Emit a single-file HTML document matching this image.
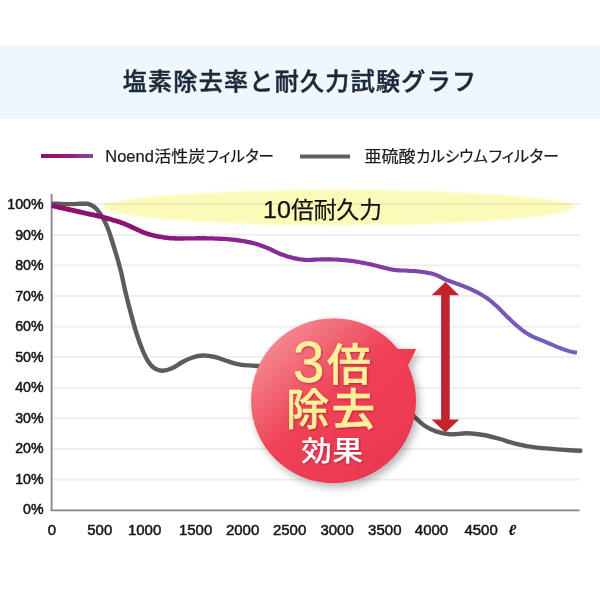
<!DOCTYPE html>
<html lang="ja">
<head>
<meta charset="utf-8">
<title>塩素除去率と耐久力試験グラフ</title>
<style>
html,body{margin:0;padding:0;background:#fff;}
body{width:600px;height:600px;overflow:hidden;position:relative;}
svg{position:absolute;left:0;top:0;display:block;}
text{font-family:"Liberation Sans","Noto Sans CJK JP",sans-serif;}
.jp{font-family:"Noto Sans CJK JP","Liberation Sans",sans-serif;}
</style>
</head>
<body>
<svg width="600" height="600" viewBox="0 0 600 600">
  <defs>
    <linearGradient id="gPurple" gradientUnits="userSpaceOnUse" x1="52" y1="0" x2="578" y2="0">
      <stop offset="0" stop-color="#8e1069"/>
      <stop offset="0.15" stop-color="#8d1272"/>
      <stop offset="0.3" stop-color="#8b2088"/>
      <stop offset="0.45" stop-color="#862e98"/>
      <stop offset="0.68" stop-color="#8044a6"/>
      <stop offset="0.85" stop-color="#7858b8"/>
      <stop offset="1" stop-color="#6f63c2"/>
    </linearGradient>
    <linearGradient id="gLegend" gradientUnits="userSpaceOnUse" x1="41" y1="0" x2="93" y2="0">
      <stop offset="0" stop-color="#85145e"/>
      <stop offset="0.55" stop-color="#9a1c80"/>
      <stop offset="0.8" stop-color="#8a3a95"/>
      <stop offset="1" stop-color="#75509f"/>
    </linearGradient>
    <linearGradient id="gBadge" gradientUnits="userSpaceOnUse" x1="275" y1="335" x2="400" y2="470">
      <stop offset="0" stop-color="#f48a92"/>
      <stop offset="0.45" stop-color="#ef4257"/>
      <stop offset="1" stop-color="#ea3650"/>
    </linearGradient>
    <filter id="fShadow" x="-20%" y="-20%" width="150%" height="150%">
      <feGaussianBlur in="SourceAlpha" stdDeviation="4"/>
      <feOffset dx="3" dy="4" result="b"/>
      <feComponentTransfer><feFuncA type="linear" slope="0.3"/></feComponentTransfer>
      <feMerge><feMergeNode/><feMergeNode in="SourceGraphic"/></feMerge>
    </filter>
    <filter id="fBlur" x="-10%" y="-50%" width="120%" height="200%">
      <feGaussianBlur stdDeviation="0.8"/>
    </filter>
    <filter id="tShadow" x="-10%" y="-10%" width="120%" height="120%">
      <feDropShadow dx="0.8" dy="1" stdDeviation="0.8" flood-color="#82001a" flood-opacity="0.5"/>
    </filter>
  </defs>

  <!-- title band -->
  <rect x="0" y="45.200" width="600" height="73.300" fill="#eff7fd"/>
  <text class="jp" x="300" y="90.400" text-anchor="middle" font-size="24" font-weight="500" fill="#1b2a3a" stroke="#1b2a3a" stroke-width="0.5" letter-spacing="1.33">塩素除去率と耐久力試験グラフ</text>

  <!-- legend -->
  <rect x="41" y="154" width="52" height="4" fill="url(#gLegend)"/>
  <g font-size="15.800" fill="#1a1a1a" stroke="#1a1a1a" stroke-width="0.2">
    <text x="105.300" y="162.400" font-family="'Liberation Sans',sans-serif" font-size="16" textLength="48.500" lengthAdjust="spacingAndGlyphs">Noend</text>
    <text class="jp" x="154.300" y="162.400" textLength="51" lengthAdjust="spacingAndGlyphs">活性炭</text>
    <text class="jp" x="206" y="162.400" style="font-feature-settings:'palt'" textLength="68" lengthAdjust="spacingAndGlyphs">フィルター</text>
  </g>
  <rect x="300" y="154.500" width="50" height="4" fill="#606060"/>
  <g font-size="15.800" fill="#1a1a1a" stroke="#1a1a1a" stroke-width="0.2">
    <text class="jp" x="364.600" y="162.400" textLength="51" lengthAdjust="spacingAndGlyphs">亜硫酸</text>
    <text class="jp" x="416.200" y="162.400" style="font-feature-settings:'palt'" textLength="71.500" lengthAdjust="spacingAndGlyphs">カルシウム</text>
    <text class="jp" x="488.600" y="162.400" style="font-feature-settings:'palt'" textLength="70.500" lengthAdjust="spacingAndGlyphs">フィルター</text>
  </g>

  <!-- grid -->
  <g stroke="#eeeeee" stroke-width="1.8" fill="none">
    <line x1="52" y1="204.2" x2="580" y2="204.2"/>
    <line x1="52" y1="234.8" x2="580" y2="234.8"/>
    <line x1="52" y1="265.4" x2="580" y2="265.4"/>
    <line x1="52" y1="296.0" x2="580" y2="296.0"/>
    <line x1="52" y1="326.6" x2="580" y2="326.6"/>
    <line x1="52" y1="357.2" x2="580" y2="357.2"/>
    <line x1="52" y1="387.8" x2="580" y2="387.8"/>
    <line x1="52" y1="418.4" x2="580" y2="418.4"/>
    <line x1="52" y1="449.0" x2="580" y2="449.0"/>
    <line x1="52" y1="479.6" x2="580" y2="479.6"/>
  </g>

  <!-- yellow lens -->
  <path d="M101.0 206.8 C103.0 206.0,108.9 203.3,112.9 202.2 C116.8 201.1,120.7 200.7,124.7 200.2 C128.6 199.6,132.6 199.1,136.6 198.6 C140.5 198.1,144.4 197.7,148.4 197.3 C152.3 197.0,156.3 196.6,160.2 196.3 C164.2 195.9,168.2 195.6,172.1 195.3 C176.1 195.0,180.0 194.7,183.9 194.5 C187.9 194.2,191.9 193.9,195.8 193.7 C199.8 193.5,203.7 193.2,207.6 193.0 C211.6 192.8,215.5 192.6,219.5 192.4 C223.5 192.2,227.4 192.1,231.4 191.9 C235.3 191.7,239.2 191.6,243.2 191.5 C247.1 191.3,251.1 191.2,255.1 191.1 C259.0 190.9,262.9 190.8,266.9 190.7 C270.8 190.6,274.8 190.5,278.8 190.4 C282.7 190.3,286.7 190.3,290.6 190.2 C294.6 190.1,298.5 190.1,302.4 190.0 C306.4 190.0,310.4 189.9,314.3 189.9 C318.2 189.9,322.2 189.8,326.1 189.8 C330.1 189.8,334.1 189.8,338.0 189.8 C341.9 189.8,345.9 189.8,349.9 189.8 C353.8 189.8,357.8 189.9,361.7 189.9 C365.7 189.9,369.6 190.0,373.5 190.0 C377.5 190.1,381.4 190.1,385.4 190.2 C389.3 190.3,393.3 190.3,397.2 190.4 C401.2 190.5,405.2 190.6,409.1 190.7 C413.1 190.8,417.0 190.9,421.0 191.1 C424.9 191.2,428.8 191.3,432.8 191.5 C436.7 191.6,440.7 191.7,444.6 191.9 C448.6 192.1,452.6 192.2,456.5 192.4 C460.4 192.6,464.4 192.8,468.4 193.0 C472.3 193.2,476.3 193.5,480.2 193.7 C484.2 193.9,488.1 194.2,492.0 194.5 C496.0 194.7,499.9 195.0,503.9 195.3 C507.8 195.6,511.8 195.9,515.8 196.3 C519.7 196.6,523.6 197.0,527.6 197.3 C531.6 197.7,535.5 198.1,539.5 198.6 C543.4 199.1,547.3 199.6,551.3 200.2 C555.2 200.7,559.2 201.1,563.1 202.2 C567.1 203.3,575.0 205.2,575.0 206.8 C575.0 208.4,567.1 210.6,563.1 211.8 C559.2 213.1,555.2 213.5,551.3 214.2 C547.3 214.9,543.4 215.4,539.5 216.0 C535.5 216.5,531.6 217.0,527.6 217.4 C523.6 217.9,519.7 218.3,515.8 218.7 C511.8 219.0,507.8 219.4,503.9 219.7 C499.9 220.0,496.0 220.3,492.0 220.6 C488.1 220.9,484.2 221.2,480.2 221.4 C476.3 221.7,472.3 221.9,468.4 222.1 C464.4 222.3,460.4 222.5,456.5 222.7 C452.6 222.9,448.6 223.1,444.6 223.3 C440.7 223.4,436.7 223.6,432.8 223.7 C428.8 223.9,424.9 224.0,421.0 224.1 C417.0 224.3,413.1 224.4,409.1 224.5 C405.2 224.6,401.2 224.7,397.2 224.8 C393.3 224.9,389.3 224.9,385.4 225.0 C381.4 225.1,377.5 225.1,373.5 225.2 C369.6 225.2,365.7 225.3,361.7 225.3 C357.8 225.3,353.8 225.4,349.9 225.4 C345.9 225.4,341.9 225.4,338.0 225.4 C334.1 225.4,330.1 225.4,326.1 225.4 C322.2 225.4,318.2 225.3,314.3 225.3 C310.4 225.3,306.4 225.2,302.4 225.2 C298.5 225.1,294.6 225.1,290.6 225.0 C286.7 224.9,282.7 224.9,278.8 224.8 C274.8 224.7,270.8 224.6,266.9 224.5 C262.9 224.4,259.0 224.3,255.1 224.1 C251.1 224.0,247.1 223.9,243.2 223.7 C239.2 223.6,235.3 223.4,231.4 223.3 C227.4 223.1,223.5 222.9,219.5 222.7 C215.5 222.5,211.6 222.3,207.6 222.1 C203.7 221.9,199.8 221.7,195.8 221.4 C191.9 221.2,187.9 220.9,183.9 220.6 C180.0 220.3,176.1 220.0,172.1 219.7 C168.2 219.4,164.2 219.0,160.2 218.7 C156.3 218.3,152.3 217.9,148.4 217.4 C144.4 217.0,140.5 216.5,136.6 216.0 C132.6 215.4,128.6 214.9,124.7 214.2 C120.7 213.5,116.8 213.1,112.9 211.8 C108.9 210.6,103.0 207.6,101.0 206.8 Z" fill="#fcfab8" filter="url(#fBlur)"/>
  <line x1="104" y1="204.200" x2="572" y2="204.200" stroke="#e4e1b2" stroke-width="1.3"/>

  <!-- axes -->
  <line x1="51.600" y1="194" x2="51.600" y2="511" stroke="#858585" stroke-width="1.8"/>
  <line x1="50.800" y1="510.300" x2="579.600" y2="510.300" stroke="#858585" stroke-width="1.8"/>

  <!-- y labels -->
  <g font-size="14.200" fill="#151515" stroke="#151515" stroke-width="0.5" text-anchor="end">
    <text x="43.600" y="209.1">100%</text>
    <text x="43.600" y="239.6">90%</text>
    <text x="43.600" y="270.1">80%</text>
    <text x="43.600" y="300.7">70%</text>
    <text x="43.600" y="331.2">60%</text>
    <text x="43.600" y="361.7">50%</text>
    <text x="43.600" y="392.2">40%</text>
    <text x="43.600" y="422.7">30%</text>
    <text x="43.600" y="453.3">20%</text>
    <text x="43.600" y="483.8">10%</text>
    <text x="43.600" y="514.3">0%</text>
  </g>
  <!-- x labels -->
  <g font-size="15" fill="#151515" stroke="#151515" stroke-width="0.5" text-anchor="middle">
    <text x="52.0" y="535.300">0</text>
    <text x="99.8" y="535.300">500</text>
    <text x="144.6" y="535.300">1000</text>
    <text x="195.6" y="535.300">1500</text>
    <text x="242.6" y="535.300">2000</text>
    <text x="289.6" y="535.300">2500</text>
    <text x="337.1" y="535.300">3000</text>
    <text x="384.8" y="535.300">3500</text>
    <text x="431.5" y="535.300">4000</text>
    <text x="481.1" y="535.300">4500</text>
    <text x="512.300" y="535.300" font-style="italic" font-weight="bold" font-family="'Liberation Serif','DejaVu Serif',serif" stroke="none">ℓ</text>
  </g>

  <!-- gray curve -->
  <path id="gray" fill="none" stroke="#5c5c5c" stroke-width="4.4" stroke-linecap="butt" stroke-linejoin="round"
    d="M51.7 203.6 C53.1 203.7,57.0 203.8,60.0 203.9 C63.0 204.0,66.7 204.1,70.0 204.1 C73.3 204.1,77.2 203.9,80.0 203.8 C82.8 203.8,85.0 203.5,87.0 203.8 C89.0 204.1,90.5 204.7,92.0 205.5 C93.5 206.3,94.7 207.2,96.0 208.5 C97.3 209.8,98.7 211.6,100.0 213.5 C101.3 215.4,102.8 217.7,104.0 220.0 C105.2 222.3,106.3 224.6,107.5 227.5 C108.7 230.4,109.8 233.7,111.0 237.5 C112.2 241.3,113.8 246.7,115.0 250.5 C116.2 254.3,117.0 256.8,118.0 260.5 C119.0 264.2,120.0 267.6,121.2 272.5 C122.4 277.4,123.5 283.8,125.0 290.0 C126.5 296.2,128.1 302.9,130.0 310.0 C131.9 317.1,134.1 325.8,136.2 332.5 C138.3 339.2,140.4 345.0,142.5 350.0 C144.6 355.0,146.6 359.2,148.7 362.3 C150.8 365.4,152.7 367.3,155.0 368.7 C157.3 370.1,159.6 370.9,162.5 370.8 C165.4 370.7,169.2 369.5,172.5 368.0 C175.8 366.5,179.2 363.8,182.5 362.0 C185.8 360.2,189.2 358.6,192.5 357.5 C195.8 356.4,198.8 355.6,202.5 355.5 C206.2 355.4,210.8 356.1,215.0 357.0 C219.2 357.9,223.3 359.9,227.5 361.2 C231.7 362.5,235.4 363.8,240.0 364.6 C244.6 365.4,249.2 365.3,255.0 365.8 C260.8 366.3,267.5 366.7,275.0 367.5 C282.5 368.3,290.8 369.2,300.0 370.5 C309.2 371.8,320.0 373.1,330.0 375.0 C340.0 376.9,350.8 379.3,360.0 382.0 C369.2 384.7,378.3 387.8,385.0 391.0 C391.7 394.2,395.0 396.6,400.0 401.0 C405.0 405.4,410.8 413.1,415.0 417.3 C419.2 421.5,421.4 423.6,425.0 426.0 C428.6 428.4,432.5 430.3,436.7 431.7 C440.9 433.1,445.0 434.0,450.0 434.3 C455.0 434.6,461.1 433.2,466.7 433.3 C472.2 433.4,477.8 434.1,483.3 435.0 C488.9 435.9,495.0 437.6,500.0 439.0 C505.0 440.4,508.8 441.9,513.3 443.1 C517.8 444.3,522.8 445.4,526.7 446.2 C530.7 446.9,533.7 447.2,537.0 447.6 C540.3 448.0,541.8 448.0,546.7 448.4 C551.7 448.8,560.9 449.6,566.7 450.0 C572.5 450.4,579.0 450.7,581.5 450.8"/>

  <circle id="grayend" cx="580.500" cy="450.800" r="2.100" fill="#5c5c5c"/>

  <!-- purple curve -->
  <path id="purple" fill="url(#gPurple)" stroke="none"
    d="M51.1 207.9 L52.0 208.1 L53.1 208.4 L54.5 208.7 L56.0 209.1 L57.6 209.5 L59.3 209.9 L60.9 210.3 L62.5 210.6 L63.9 210.9 L65.4 211.3 L66.9 211.6 L68.4 211.9 L70.0 212.2 L71.5 212.5 L73.0 212.9 L74.5 213.2 L75.9 213.5 L77.4 213.9 L78.9 214.2 L80.4 214.6 L81.9 214.9 L83.4 215.3 L84.9 215.6 L86.5 216.0 L88.1 216.3 L89.7 216.7 L91.4 217.0 L93.0 217.3 L94.7 217.7 L96.3 218.0 L97.9 218.4 L99.4 218.7 L100.9 219.1 L102.4 219.5 L103.9 219.9 L105.3 220.3 L106.8 220.7 L108.3 221.2 L109.8 221.6 L111.3 222.1 L112.9 222.6 L114.6 223.1 L116.3 223.6 L118.0 224.1 L119.6 224.6 L121.3 225.2 L122.8 225.7 L124.2 226.2 L125.4 226.7 L126.6 227.2 L127.7 227.7 L128.7 228.2 L129.8 228.7 L130.8 229.3 L131.9 229.8 L133.0 230.3 L134.1 230.8 L135.2 231.3 L136.3 231.8 L137.4 232.3 L138.5 232.8 L139.5 233.3 L140.6 233.7 L141.6 234.2 L142.6 234.5 L143.6 234.9 L144.6 235.3 L145.6 235.6 L146.5 235.9 L147.5 236.2 L148.4 236.5 L149.4 236.8 L150.3 237.1 L151.3 237.3 L152.2 237.6 L153.2 237.8 L154.1 238.0 L155.1 238.2 L156.1 238.4 L157.1 238.5 L158.1 238.7 L159.1 238.9 L160.2 239.1 L161.3 239.3 L162.4 239.5 L163.5 239.7 L164.6 239.8 L165.7 240.0 L166.8 240.1 L167.8 240.2 L168.9 240.3 L169.9 240.4 L171.0 240.5 L172.2 240.5 L173.5 240.6 L174.9 240.7 L176.5 240.7 L178.2 240.7 L180.0 240.7 L181.8 240.7 L183.8 240.7 L185.8 240.6 L187.9 240.6 L190.0 240.6 L192.3 240.6 L194.7 240.6 L197.2 240.6 L199.7 240.5 L202.3 240.5 L204.9 240.5 L207.4 240.5 L210.0 240.6 L212.4 240.6 L214.9 240.7 L217.4 240.8 L219.9 240.9 L222.4 241.0 L224.9 241.1 L227.3 241.3 L229.8 241.5 L232.3 241.8 L234.8 242.1 L237.4 242.4 L239.9 242.7 L242.4 243.0 L244.9 243.4 L247.2 243.9 L249.5 244.4 L251.7 244.9 L253.9 245.5 L256.0 246.1 L258.1 246.8 L260.1 247.5 L262.1 248.2 L264.1 248.9 L265.9 249.6 L267.7 250.4 L269.4 251.1 L271.0 251.9 L272.6 252.7 L274.2 253.5 L275.9 254.3 L277.5 255.0 L279.2 255.7 L280.9 256.4 L282.6 257.0 L284.3 257.6 L286.0 258.2 L287.7 258.7 L289.4 259.2 L291.1 259.6 L292.8 260.0 L294.5 260.4 L296.2 260.7 L297.8 261.0 L299.5 261.3 L301.2 261.5 L302.9 261.7 L304.7 261.9 L306.6 262.0 L308.6 262.0 L310.7 262.0 L312.8 261.9 L314.9 261.8 L317.1 261.6 L319.2 261.5 L321.3 261.4 L323.3 261.4 L325.4 261.4 L327.4 261.4 L329.5 261.4 L331.6 261.5 L333.7 261.5 L335.7 261.6 L337.8 261.7 L339.9 261.9 L341.9 262.0 L344.0 262.2 L346.1 262.4 L348.1 262.6 L350.2 262.9 L352.3 263.1 L354.3 263.4 L356.4 263.7 L358.5 264.1 L360.6 264.5 L362.8 264.9 L364.9 265.3 L367.0 265.7 L369.1 266.2 L371.0 266.6 L372.8 267.0 L374.5 267.4 L376.1 267.8 L377.6 268.2 L379.0 268.6 L380.4 268.9 L381.8 269.3 L383.2 269.7 L384.5 270.0 L385.8 270.3 L387.1 270.6 L388.3 270.9 L389.5 271.2 L390.7 271.4 L391.9 271.6 L393.2 271.9 L394.4 272.0 L395.7 272.2 L397.1 272.3 L398.3 272.4 L399.6 272.4 L400.9 272.5 L402.2 272.5 L403.5 272.6 L404.9 272.6 L406.3 272.7 L407.8 272.8 L409.2 272.9 L410.7 272.9 L412.2 273.0 L413.7 273.1 L415.1 273.2 L416.5 273.3 L417.9 273.5 L419.2 273.6 L420.5 273.8 L421.8 274.0 L423.1 274.1 L424.3 274.3 L425.5 274.5 L426.6 274.7 L427.7 274.9 L428.8 275.1 L429.8 275.3 L430.8 275.6 L431.7 275.8 L432.7 276.0 L433.5 276.3 L434.4 276.5 L435.1 276.8 L435.9 277.1 L436.6 277.4 L437.3 277.8 L438.0 278.1 L438.7 278.4 L439.4 278.8 L440.1 279.1 L440.7 279.4 L441.3 279.7 L441.9 280.0 L442.5 280.4 L443.1 280.7 L443.7 281.0 L444.4 281.3 L445.2 281.7 L446.0 282.0 L446.7 282.3 L447.4 282.5 L448.2 282.7 L449.0 283.0 L450.0 283.3 L451.1 283.8 L452.6 284.3 L454.4 285.0 L456.5 285.8 L458.8 286.6 L461.3 287.6 L463.9 288.5 L466.3 289.5 L468.7 290.5 L470.9 291.4 L472.8 292.4 L474.8 293.4 L476.7 294.3 L478.5 295.3 L480.2 296.3 L481.9 297.3 L483.6 298.3 L485.2 299.4 L486.7 300.4 L488.1 301.5 L489.4 302.5 L490.7 303.6 L492.0 304.7 L493.3 305.9 L494.6 307.1 L495.9 308.3 L497.3 309.6 L498.6 310.9 L500.0 312.2 L501.3 313.7 L502.7 315.1 L504.1 316.5 L505.5 317.9 L506.9 319.3 L508.3 320.6 L509.7 321.9 L511.1 323.2 L512.4 324.4 L513.8 325.7 L515.2 326.9 L516.6 328.1 L518.0 329.3 L519.4 330.4 L520.7 331.4 L522.0 332.4 L523.4 333.4 L524.8 334.4 L526.2 335.3 L527.7 336.3 L529.3 337.2 L531.1 338.1 L532.9 338.9 L534.8 339.7 L536.7 340.5 L538.6 341.3 L540.5 342.0 L542.4 342.8 L544.2 343.6 L546.1 344.3 L548.0 345.2 L549.9 346.0 L551.8 346.8 L553.7 347.6 L555.5 348.4 L557.3 349.1 L559.0 349.8 L560.6 350.4 L562.1 350.9 L563.6 351.5 L565.1 352.0 L566.5 352.4 L567.8 352.8 L569.0 353.2 L570.2 353.5 L571.3 353.8 L572.4 354.0 L573.4 354.2 L574.3 354.4 L575.1 354.5 L575.7 354.5 L576.3 354.6 L576.7 354.7 L577.3 350.7 L576.8 350.7 L576.2 350.6 L575.6 350.5 L574.8 350.4 L574.0 350.3 L573.1 350.1 L572.2 349.9 L571.2 349.7 L570.1 349.4 L569.0 349.0 L567.7 348.6 L566.4 348.2 L565.0 347.7 L563.5 347.2 L562.0 346.6 L560.4 346.0 L558.8 345.4 L557.1 344.7 L555.2 343.9 L553.4 343.1 L551.5 342.3 L549.6 341.5 L547.7 340.7 L545.8 339.8 L543.9 339.1 L542.0 338.3 L540.1 337.5 L538.2 336.8 L536.3 336.0 L534.5 335.2 L532.8 334.4 L531.3 333.6 L529.8 332.8 L528.4 331.9 L527.0 331.0 L525.7 330.1 L524.5 329.2 L523.2 328.2 L521.9 327.2 L520.6 326.1 L519.2 325.0 L517.9 323.9 L516.5 322.7 L515.2 321.5 L513.8 320.2 L512.4 318.9 L511.1 317.6 L509.7 316.3 L508.3 315.0 L507.0 313.7 L505.6 312.3 L504.3 310.8 L502.9 309.4 L501.5 308.0 L500.1 306.6 L498.7 305.3 L497.3 304.1 L496.0 302.9 L494.7 301.7 L493.3 300.5 L492.0 299.4 L490.5 298.3 L489.0 297.1 L487.4 296.0 L485.8 294.9 L484.0 293.9 L482.3 292.8 L480.4 291.8 L478.6 290.7 L476.6 289.7 L474.6 288.7 L472.5 287.8 L470.3 286.8 L467.9 285.7 L465.3 284.7 L462.8 283.8 L460.3 282.8 L457.9 281.9 L455.8 281.2 L454.0 280.5 L452.5 279.9 L451.3 279.5 L450.3 279.2 L449.5 278.9 L448.7 278.6 L448.1 278.4 L447.5 278.2 L446.8 277.9 L446.1 277.6 L445.5 277.3 L444.9 277.1 L444.4 276.8 L443.8 276.4 L443.2 276.1 L442.6 275.8 L441.9 275.5 L441.2 275.1 L440.5 274.8 L439.8 274.4 L439.1 274.1 L438.3 273.7 L437.5 273.3 L436.6 273.0 L435.6 272.7 L434.7 272.4 L433.7 272.1 L432.8 271.8 L431.7 271.6 L430.7 271.3 L429.6 271.1 L428.5 270.9 L427.4 270.7 L426.2 270.5 L424.9 270.3 L423.7 270.1 L422.4 269.9 L421.0 269.7 L419.7 269.6 L418.3 269.4 L416.9 269.3 L415.5 269.1 L414.0 269.0 L412.5 268.9 L411.0 268.9 L409.4 268.8 L408.0 268.7 L406.5 268.6 L405.1 268.6 L403.7 268.5 L402.4 268.4 L401.1 268.4 L399.8 268.3 L398.6 268.3 L397.3 268.2 L396.2 268.1 L395.0 268.0 L393.8 267.8 L392.6 267.6 L391.5 267.4 L390.4 267.1 L389.2 266.9 L388.0 266.6 L386.8 266.3 L385.5 266.0 L384.2 265.7 L382.9 265.3 L381.5 265.0 L380.1 264.6 L378.7 264.2 L377.1 263.8 L375.5 263.4 L373.8 263.0 L371.9 262.6 L369.9 262.1 L367.9 261.7 L365.7 261.3 L363.5 260.8 L361.3 260.4 L359.2 260.0 L357.0 259.7 L354.9 259.3 L352.8 259.0 L350.7 258.8 L348.6 258.5 L346.5 258.3 L344.4 258.1 L342.3 257.9 L340.1 257.7 L338.0 257.6 L335.9 257.5 L333.8 257.4 L331.7 257.3 L329.6 257.3 L327.5 257.2 L325.4 257.2 L323.3 257.2 L321.1 257.3 L319.0 257.4 L316.8 257.5 L314.7 257.6 L312.6 257.7 L310.6 257.8 L308.6 257.9 L306.8 257.8 L305.0 257.7 L303.3 257.6 L301.7 257.4 L300.1 257.2 L298.5 256.9 L297.0 256.6 L295.4 256.3 L293.8 256.0 L292.1 255.6 L290.5 255.1 L288.9 254.7 L287.3 254.2 L285.7 253.6 L284.0 253.1 L282.4 252.5 L280.8 251.9 L279.2 251.2 L277.6 250.5 L276.1 249.7 L274.5 248.9 L272.9 248.1 L271.1 247.3 L269.3 246.5 L267.5 245.8 L265.5 245.0 L263.6 244.3 L261.5 243.5 L259.4 242.8 L257.3 242.1 L255.1 241.4 L252.8 240.8 L250.5 240.2 L248.1 239.7 L245.6 239.3 L243.1 238.9 L240.5 238.5 L237.9 238.1 L235.3 237.8 L232.7 237.5 L230.2 237.3 L227.7 237.0 L225.1 236.8 L222.6 236.7 L220.1 236.6 L217.6 236.5 L215.1 236.4 L212.6 236.3 L210.0 236.2 L207.5 236.2 L204.9 236.1 L202.3 236.1 L199.7 236.1 L197.1 236.1 L194.6 236.2 L192.2 236.2 L190.0 236.2 L187.8 236.2 L185.7 236.2 L183.7 236.2 L181.8 236.2 L180.0 236.2 L178.2 236.2 L176.6 236.2 L175.1 236.1 L173.7 236.1 L172.4 236.0 L171.3 236.0 L170.3 235.9 L169.3 235.8 L168.3 235.7 L167.3 235.6 L166.3 235.4 L165.2 235.3 L164.1 235.2 L163.1 235.0 L162.0 234.8 L161.0 234.6 L160.0 234.4 L158.9 234.2 L157.9 234.1 L157.0 233.9 L156.0 233.7 L155.1 233.5 L154.2 233.3 L153.3 233.1 L152.4 232.9 L151.5 232.6 L150.6 232.4 L149.7 232.1 L148.8 231.8 L148.0 231.6 L147.1 231.2 L146.2 230.9 L145.3 230.6 L144.3 230.2 L143.4 229.8 L142.4 229.4 L141.4 229.0 L140.4 228.6 L139.3 228.1 L138.2 227.6 L137.2 227.1 L136.1 226.6 L135.0 226.1 L133.9 225.6 L132.9 225.1 L131.9 224.6 L130.8 224.0 L129.7 223.5 L128.5 222.9 L127.2 222.4 L125.8 221.8 L124.4 221.2 L122.8 220.7 L121.1 220.1 L119.4 219.6 L117.7 219.1 L116.0 218.5 L114.3 218.0 L112.7 217.5 L111.1 217.1 L109.6 216.6 L108.1 216.1 L106.7 215.7 L105.2 215.3 L103.7 214.9 L102.1 214.5 L100.6 214.1 L99.0 213.7 L97.3 213.3 L95.7 212.9 L94.0 212.6 L92.3 212.3 L90.7 211.9 L89.1 211.6 L87.5 211.2 L86.0 210.9 L84.5 210.5 L83.0 210.2 L81.5 209.8 L80.0 209.5 L78.5 209.1 L77.0 208.8 L75.5 208.4 L74.0 208.1 L72.5 207.7 L71.0 207.4 L69.5 207.1 L68.0 206.8 L66.5 206.4 L65.0 206.1 L63.5 205.8 L62.0 205.4 L60.4 205.1 L58.8 204.7 L57.2 204.3 L55.7 203.9 L54.3 203.6 L53.2 203.3 L52.3 203.1 Z"/>

  <!-- arrow -->
  <path d="M445.400 282 L459.200 295.300 L449.700 295.300 L449.700 419.500 L459.200 419.500 L445.400 432.600 L431.600 419.500 L441.100 419.500 L441.100 295.300 L431.600 295.300 Z" fill="#c1232f"/>

  <!-- badge -->
  <g filter="url(#fShadow)">
    <path d="M388 348.700 L416.200 349.100 L407.300 367 Z" fill="#ee3c50"/>
    <circle cx="333.500" cy="400.700" r="82.500" fill="url(#gBadge)"/>
  </g>
  <g class="jp" font-weight="500" fill="#fcf09a" stroke="#fcf09a" stroke-width="0.4" stroke-linejoin="round" filter="url(#tShadow)">
    <text x="293" y="381.700" font-size="56.500">3</text>
    <text x="327" y="381" font-size="44">倍</text>
    <text x="286" y="424.500" font-size="43.200">除</text>
    <text x="331.800" y="424.500" font-size="43.200">去</text>
  </g>
  <g class="jp" font-weight="500" fill="#ffffff" font-size="28.300" filter="url(#tShadow)">
    <text transform="translate(301,460.900) scale(1.09,1)">効</text>
    <text transform="translate(332.300,460.900) scale(1.09,1)">果</text>
  </g>
  <g font-size="22.500" fill="#111" stroke="#111" stroke-width="0.25">
    <text x="263" y="218" font-size="23.500" font-family="'Liberation Sans',sans-serif" textLength="27.800" lengthAdjust="spacingAndGlyphs">10</text>
    <text class="jp" x="291" y="218" textLength="91" lengthAdjust="spacingAndGlyphs">倍耐久力</text>
  </g>
</svg>
</body>
</html>
